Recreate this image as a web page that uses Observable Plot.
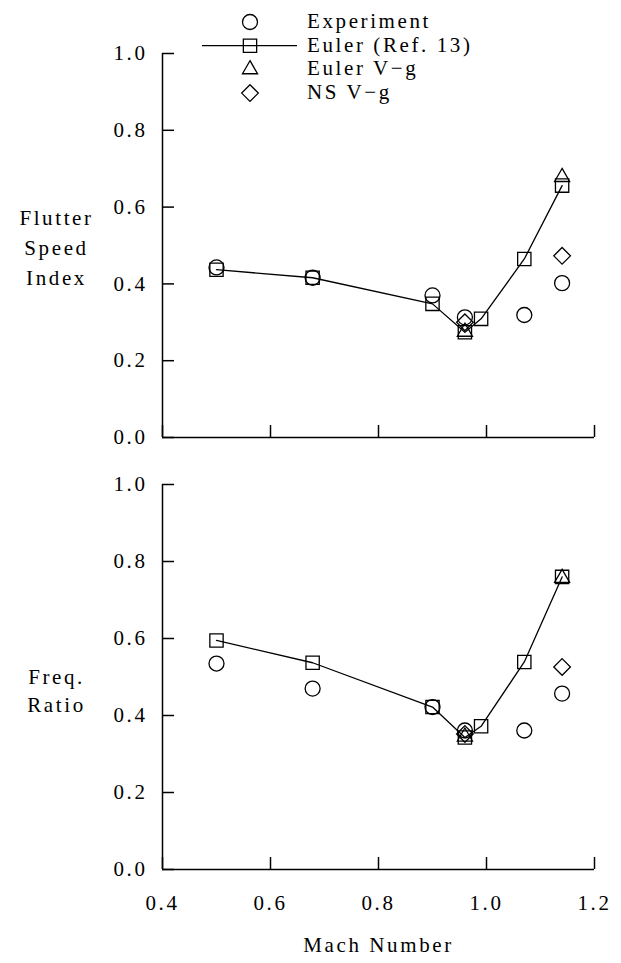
<!DOCTYPE html>
<html>
<head>
<meta charset="utf-8">
<script src="https://cdn.jsdelivr.net/npm/d3@7"></script>
<script src="https://cdn.jsdelivr.net/npm/@observablehq/plot@0.6"></script>
<style>
  html, body { margin: 0; padding: 0; background: #fff; }
  #wrap { position: relative; width: 621px; height: 963px; font-family: "Liberation Serif", serif; }
  #top, #bottom, #legend { position: absolute; left: 0; }
  #top { top: 0; }
  #bottom { top: 450px; }
  #legend { top: 0; pointer-events: none; }
  svg text { letter-spacing: 2.6px; }
</style>
</head>
<body>
<div id="wrap">
  <div id="top"></div>
  <div id="bottom"></div>
  <div id="legend"></div>
</div>
<script>
// ---- data ----
const machExp   = [0.5, 0.678, 0.9, 0.96, 1.07, 1.14];
const fsiExp    = [0.443, 0.416, 0.370, 0.313, 0.319, 0.402];
const freqExp   = [0.535, 0.470, 0.422, 0.361, 0.361, 0.457];

const machEuler = [0.5, 0.678, 0.9, 0.96, 0.99, 1.07, 1.14];
const fsiEuler  = [0.437, 0.416, 0.348, 0.274, 0.309, 0.465, 0.656];
const freqEuler = [0.595, 0.537, 0.422, 0.343, 0.372, 0.539, 0.760];

const machEulerVg = [0.96, 1.14];
const fsiEulerVg  = [0.275, 0.678];
const freqEulerVg = [0.345, 0.757];

const machNSVg = [0.96, 1.14];
const fsiNSVg  = [0.300, 0.473];
const freqNSVg = [0.352, 0.526];

const xTicks = [0.4, 0.6, 0.8, 1.0, 1.2];
const yTicks = [0.0, 0.2, 0.4, 0.6, 0.8, 1.0];

const seriesNames = ["Experiment", "Euler (Ref. 13)", "Euler V\u2212g", "NS V\u2212g"];
const seriesSymbols = ["circle", "square", "triangle", "diamond2"];
const yTitleTop = "Flutter\nSpeed\nIndex";
const yTitleBottom = "Freq.\nRatio";
const xTitle = "Mach Number";

const zip = (xs, ys) => xs.map((x, i) => ({x, y: ys[i]}));

const FONT = "Liberation Serif";
const FS = 21;
const W = 621, ML = 162, MR = 27;
const frameW = W - ML - MR;
const R = 7.5, RT = 5.6;

function panel({height, mt, mb, exp, euler, eulerVg, nsVg, showX, yTitle, yTitleDy, lineHeight}) {
  const frameH = height - mt - mb;
  const marks = [
    Plot.ruleY([0], {strokeWidth: 1.5}),
    Plot.ruleX([0.4], {strokeWidth: 1.5}),
    Plot.tickX(xTicks, {x: d => d, insetTop: frameH - 12, strokeWidth: 1.5}),
    Plot.tickY(yTicks, {y: d => d, insetRight: frameW - 12, strokeWidth: 1.5}),
    Plot.axisY(yTicks, {tickSize: 0, tickPadding: 15, tickFormat: d3.format(".1f"), fontSize: FS, label: null}),
    Plot.line(euler, {x: "x", y: "y", stroke: "black", strokeWidth: 1.3}),
    Plot.dot(exp, {x: "x", y: "y", symbol: "circle", r: R, stroke: "black", strokeWidth: 1.3, fill: "none"}),
    Plot.dot(euler, {x: "x", y: "y", symbol: "square", r: R, stroke: "black", strokeWidth: 1.3, fill: "none"}),
    Plot.dot(eulerVg, {x: "x", y: "y", symbol: "triangle", r: RT, stroke: "black", strokeWidth: 1.3, fill: "none"}),
    Plot.dot(nsVg, {x: "x", y: "y", symbol: "diamond2", r: R, stroke: "black", strokeWidth: 1.3, fill: "none"}),
    Plot.text([yTitle], {text: d => d, frameAnchor: "left", dx: -106, dy: yTitleDy, textAnchor: "middle", lineHeight, fontSize: FS})
  ];
  if (showX) {
    marks.push(Plot.axisX(xTicks, {tickSize: 0, tickPadding: 26, tickFormat: d3.format(".1f"), fontSize: FS, label: null}));
    marks.push(Plot.text([xTitle], {text: d => d, frameAnchor: "bottom", dy: 82, textAnchor: "middle", fontSize: FS}));
  } else {
    marks.push(Plot.axisX({ticks: [], label: null}));
  }
  return Plot.plot({
    width: W, height,
    marginLeft: ML, marginRight: MR, marginTop: mt, marginBottom: mb,
    style: {fontFamily: FONT, fontSize: FS + "px", color: "black", background: "white", overflow: "visible"},
    x: {domain: [0.4, 1.2]},
    y: {domain: [0, 1]},
    marks
  });
}

document.getElementById("top").appendChild(panel({
  height: 450, mt: 53, mb: 13,
  exp: zip(machExp, fsiExp), euler: zip(machEuler, fsiEuler),
  eulerVg: zip(machEulerVg, fsiEulerVg), nsVg: zip(machNSVg, fsiNSVg),
  showX: false, yTitle: yTitleTop, yTitleDy: 0, lineHeight: 30 / FS
}));
document.getElementById("bottom").appendChild(panel({
  height: 513, mt: 34, mb: 94,
  exp: zip(machExp, freqExp), euler: zip(machEuler, freqEuler),
  eulerVg: zip(machEulerVg, freqEulerVg), nsVg: zip(machNSVg, freqNSVg),
  showX: true, yTitle: yTitleBottom, yTitleDy: 12, lineHeight: 28 / FS
}));

// ---- legend ----
const symMap = {circle: d3.symbolCircle, square: d3.symbolSquare, triangle: d3.symbolTriangle, diamond2: d3.symbolDiamond2};
const lg = d3.select("#legend").append("svg").attr("width", W).attr("height", 110)
  .style("font-family", FONT).style("font-size", FS + "px");
seriesNames.forEach((name, i) => {
  const cy = 21 + i * 23.7;
  const g = lg.append("g");
  if (i === 1) {
    g.append("line").attr("x1", 202).attr("x2", 297).attr("y1", cy + 1).attr("y2", cy + 1)
      .attr("stroke", "black").attr("stroke-width", 1.3);
  }
  const r = seriesSymbols[i] === "triangle" ? RT : R;
  g.append("path")
    .attr("d", d3.symbol(symMap[seriesSymbols[i]], Math.PI * r * r)())
    .attr("transform", `translate(250,${cy + 1})`)
    .attr("fill", "none").attr("stroke", "black").attr("stroke-width", 1.3);
  g.append("text").attr("x", 307).attr("y", cy + 7).text(name);
});
</script>
</body>
</html>
